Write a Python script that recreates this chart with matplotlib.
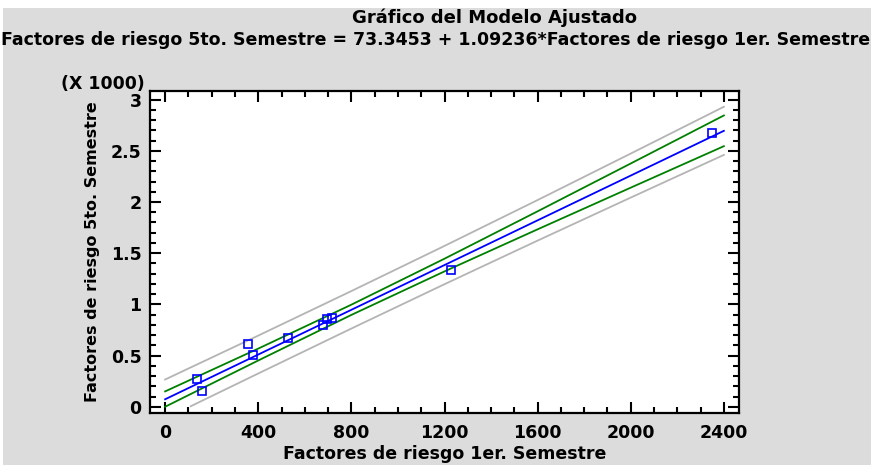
import matplotlib
matplotlib.use("Agg")
import matplotlib.pyplot as plt
from matplotlib.patches import Rectangle
from matplotlib.ticker import MultipleLocator, FuncFormatter

plt.rcParams['font.family'] = ['DejaVu Sans']
plt.rcParams['font.weight'] = 'bold'

# observed points
x_obs = [138, 158, 354, 376, 529, 677, 695, 717, 1230, 2350]
y_obs = [270, 149, 617, 510, 669, 802, 858, 867, 1335, 2673]

# fitted line and limits
x_grid = [0, 400, 800, 1200, 1600, 2000, 2400]
fit = [73, 510, 947, 1384, 1821, 2258, 2695]
conf_up = [150, 568, 997, 1446, 1909, 2376, 2845]
conf_lo = [0, 452, 897, 1322, 1733, 2140, 2545]
pred_up = [266, 695, 1130, 1571, 2019, 2473, 2930]
x_pred_lo = [110, 400, 800, 1200, 1600, 2000, 2400]
pred_lo = [5, 325, 764, 1197, 1623, 2043, 2460]

W, H = 871, 465
fs = 12.5
fig = plt.figure(figsize=(W / 100, H / 100), dpi=100, facecolor='white')
fig.patches.append(Rectangle((3 / W, 0), 1, (H - 8) / H, transform=fig.transFigure,
                             facecolor='#dcdcdc', edgecolor='none', zorder=-10))

ax = fig.add_axes([150 / W, (H - 413) / H, 589 / W, 322 / H])
ax.set_facecolor('white')

ax.plot(x_grid, pred_up, color='#b4b4b4', lw=1.3)
ax.plot(x_pred_lo, pred_lo, color='#b4b4b4', lw=1.3)
ax.plot(x_grid, conf_up, color='#008000', lw=1.3)
ax.plot(x_grid, conf_lo, color='#008000', lw=1.3)
ax.plot(x_grid, fit, color='#0000ff', lw=1.3)
ax.plot(x_obs, y_obs, 's', mfc='none', mec='#0000ff', mew=1.2, ms=5.5, ls='none')

ax.set_xlim(-65, 2465)
ax.set_ylim(-61, 3084)
ax.xaxis.set_major_locator(MultipleLocator(400))
ax.xaxis.set_minor_locator(MultipleLocator(100))
ax.yaxis.set_major_locator(MultipleLocator(500))
ax.yaxis.set_minor_locator(MultipleLocator(100))
ax.yaxis.set_major_formatter(FuncFormatter(lambda v, p: '%g' % (v / 1000)))

ax.tick_params(which='both', direction='in', top=True, right=True, width=1.5,
               labelsize=fs)
ax.tick_params(axis='x', pad=8)
ax.tick_params(axis='y', pad=6)
ax.tick_params(which='major', length=8)
ax.tick_params(which='minor', length=4)
for lab in ax.get_xticklabels() + ax.get_yticklabels():
    lab.set_fontweight('bold')
for s in ax.spines.values():
    s.set_linewidth(1.6)

ax.set_xlabel('Factores de riesgo 1er. Semestre', fontsize=fs, fontweight='bold', labelpad=2)
ax.set_ylabel('Factores de riesgo 5to. Semestre', fontsize=11.5, fontweight='bold')
ax.yaxis.set_label_coords(-0.085, 0.5)

fig.text(495 / W, 1 - 18 / H, 'Gráfico del Modelo Ajustado', ha='center', va='center',
         fontsize=13, fontweight='bold')
fig.text(436 / W, 1 - 40 / H,
         'Factores de riesgo 5to. Semestre = 73.3453 + 1.09236*Factores de riesgo 1er. Semestre',
         ha='center', va='center', fontsize=fs, fontweight='bold')
fig.text(103 / W, 1 - 84 / H, '(X 1000)', ha='center', va='center', fontsize=fs, fontweight='bold')

fig.savefig('out.png', dpi=100, facecolor=fig.get_facecolor())
